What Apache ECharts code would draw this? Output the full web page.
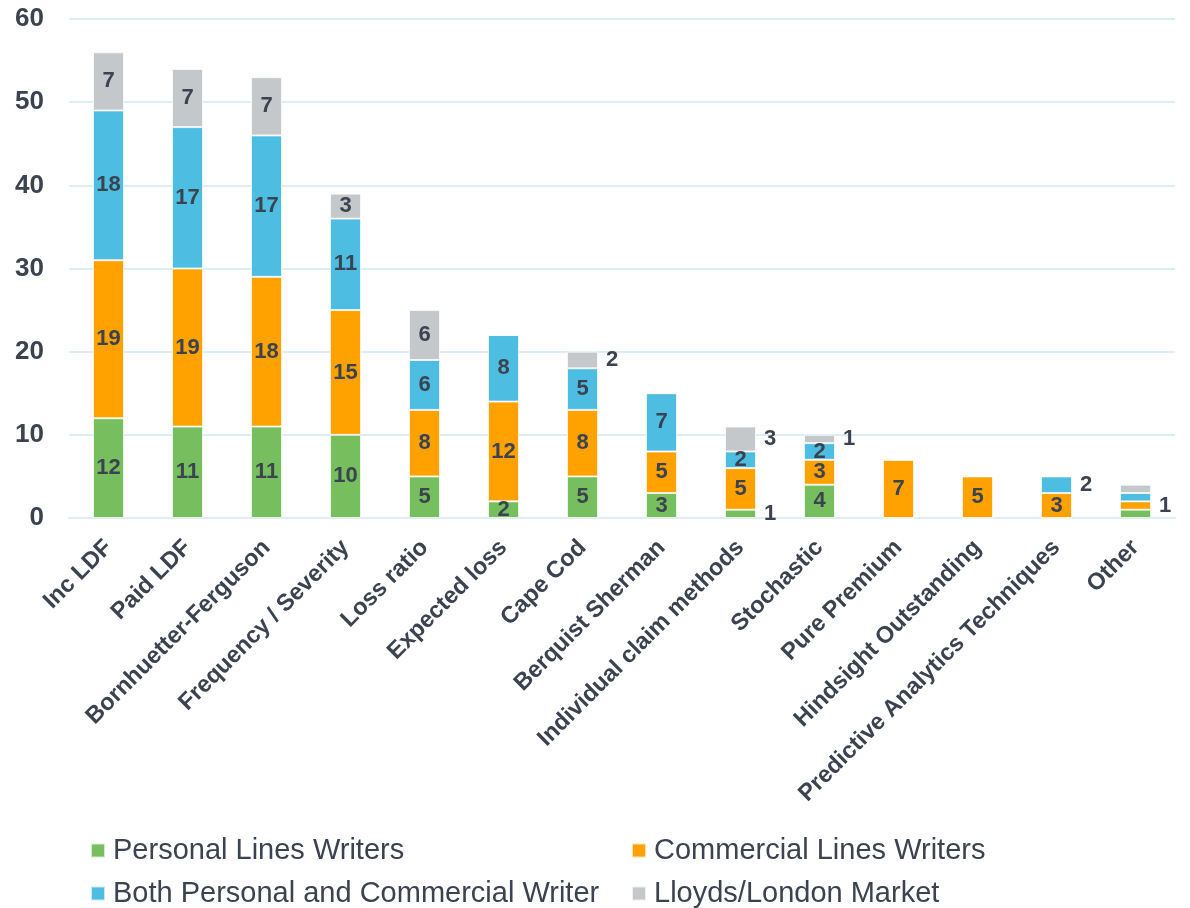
<!DOCTYPE html>
<html><head><meta charset="utf-8">
<script src="https://cdn.jsdelivr.net/npm/echarts@6/dist/echarts.min.js"></script>
<style>html,body{margin:0;padding:0;background:#fff}#c{width:1190px;height:908px}</style>
</head><body><div id="c"></div>
<script>
const categories = ["Inc LDF","Paid LDF","Bornhuetter-Ferguson","Frequency / Severity","Loss ratio","Expected loss","Cape Cod","Berquist Sherman","Individual claim methods","Stochastic","Pure Premium","Hindsight Outstanding","Predictive Analytics Techniques","Other"];
const seriesNames = ["Personal Lines Writers","Commercial Lines Writers","Both Personal and Commercial Writer","Lloyds/London Market"];
const personal   = [12,11,11,10,5,2,5,3,1,4,0,0,0,1];
const commercial = [19,19,18,15,8,12,8,5,5,3,7,5,3,1];
const both       = [18,17,17,11,6,8,5,7,2,2,0,0,2,1];
const lloyds     = [7,7,7,3,6,0,2,0,3,1,0,0,0,1];
const yTicks = [0,10,20,30,40,50,60];

const values = [personal, commercial, both, lloyds];
const colors = ["#77BF5E","#FFA200","#4EBDE2","#C5C8CA"];
const textColor = "#3B4350";
const FONT = 'Liberation Sans, Arial, sans-serif';
// label placement: [seriesIndex, categoryIndex] -> 'right' or 'hide'
const labelPlacement = {
  "3,6":"right","3,8":"right","0,8":"right","3,9":"right","2,12":"right",
  "1,13":"right","0,13":"hide","2,13":"hide","3,13":"hide"
};
// legend layout: [left, top] per series
const legendPos = [[90,836],[631,836],[90,879],[631,879]];

const chart = echarts.init(document.getElementById('c'), null, {renderer:'canvas'});
const series = values.map((arr, si) => ({
  name: seriesNames[si],
  type: 'bar',
  stack: 'total',
  barWidth: 31,
  itemStyle: {color: colors[si], borderColor: 'rgba(255,255,255,0.7)', borderWidth: 1},
  label: {show: true, position: 'inside', color: textColor, fontWeight: 'bold', fontSize: 22, fontFamily: FONT},
  data: arr.map((v, ci) => {
    const p = labelPlacement[si + ',' + ci];
    if (v === 0) return {value: v, label: {show: false}};
    if (p === 'hide') return {value: v, label: {show: false}};
    if (p === 'right') return {value: v, label: {show: true, position: 'right', distance: 8}};
    return v;
  })
}));

chart.setOption({
  animation: false,
  backgroundColor: '#fff',
  textStyle: {fontFamily: FONT},
  grid: {left: 69, right: 15, top: 19, bottom: 390, containLabel: false},
  legend: seriesNames.map((n, i) => ({
    data: [n], left: legendPos[i][0], top: legendPos[i][1], itemWidth: 14, itemHeight: 14, itemGap: 0,
    icon: 'rect', padding: 0, textStyle: {fontSize: 29, color: textColor, fontFamily: FONT, padding: [0,0,0,3]}
  })),
  xAxis: {
    type: 'category', data: categories,
    axisLine: {show: true, lineStyle: {color: '#DCEEFA', width: 2}},
    axisTick: {show: false},
    axisLabel: {rotate: 45, interval: 0, margin: 26, color: textColor, fontWeight: 'bold', fontSize: 23.5, fontFamily: FONT}
  },
  yAxis: {
    type: 'value', min: yTicks[0], max: yTicks[yTicks.length-1], interval: 10,
    axisLine: {show: false}, axisTick: {show: false},
    splitLine: {lineStyle: {color: '#DCEEFA', width: 2}},
    axisLabel: {margin: 25, color: textColor, fontWeight: 'bold', fontSize: 26, fontFamily: FONT}
  },
  series: series
});
</script></body></html>
